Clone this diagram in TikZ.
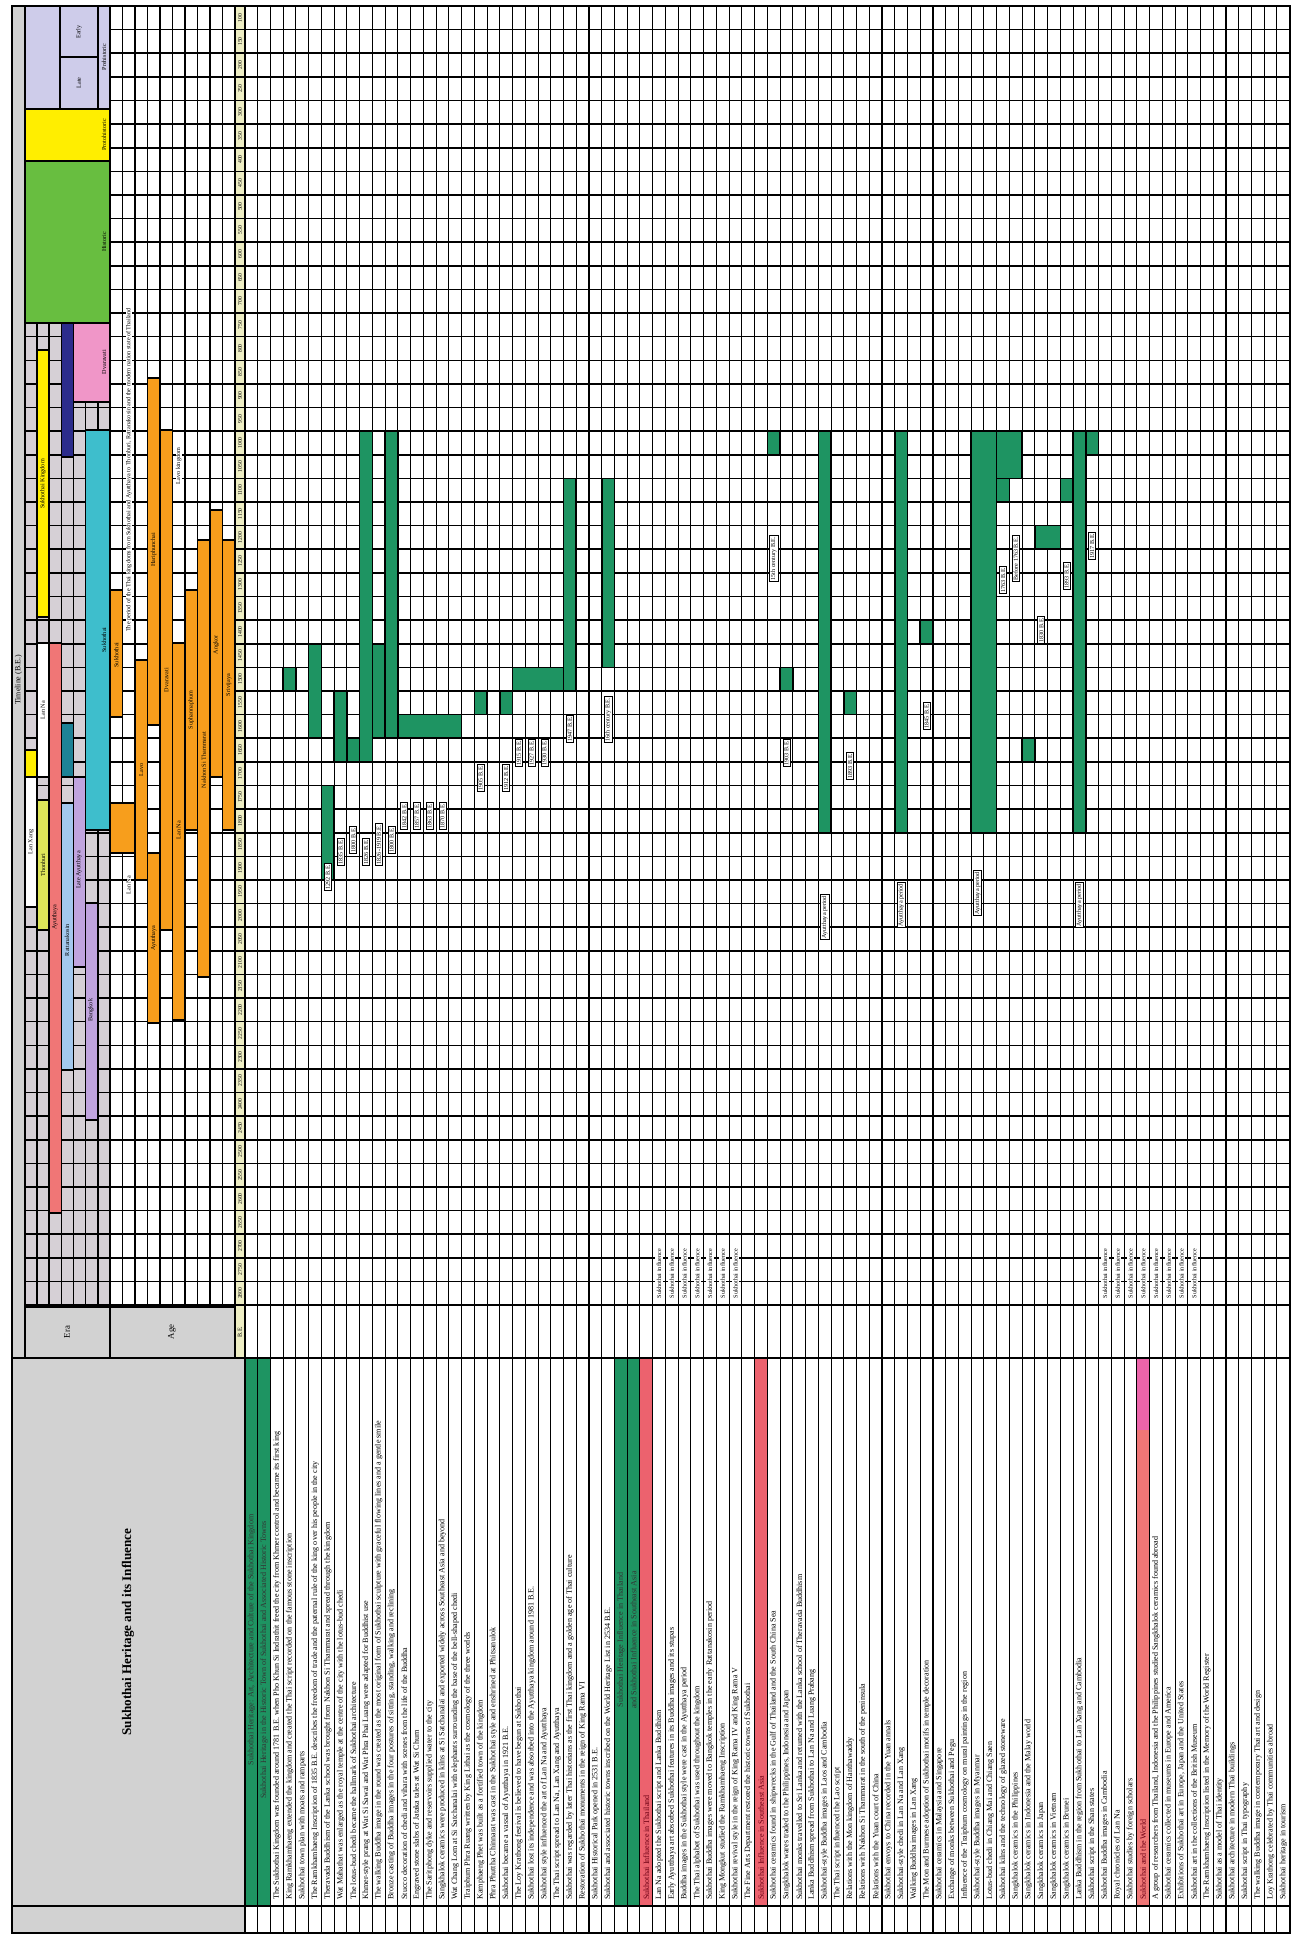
\documentclass[tikz,border=0pt]{standalone}
\usepackage{fontspec}
\setmainfont{Liberation Serif}
\usetikzlibrary{positioning}

\definecolor{hgreen}{RGB}{30,148,98}
\definecolor{ambar}{RGB}{247,158,28}
\definecolor{salmon}{RGB}{240,118,118}
\definecolor{rowred}{RGB}{236,98,110}
\definecolor{rowpink}{RGB}{236,100,170}
\definecolor{darkred}{RGB}{110,0,20}
\definecolor{eragray}{RGB}{214,208,214}
\definecolor{boxgray}{RGB}{210,210,210}
\definecolor{yrstrip}{RGB}{238,238,196}
\definecolor{lavender}{RGB}{206,204,234}
\definecolor{brightyel}{RGB}{255,238,0}
\definecolor{limegreen}{RGB}{104,190,64}
\definecolor{pinkbox}{RGB}{240,150,200}
\definecolor{navybar}{RGB}{44,44,140}
\definecolor{cyanbar}{RGB}{62,190,204}
\definecolor{tealbar}{RGB}{30,130,150}
\definecolor{ltblue}{RGB}{164,200,238}
\definecolor{lilac}{RGB}{192,164,222}
\definecolor{olivey}{RGB}{222,230,90}

% column positions of the rotated table
\newcommand{\rx}[1]{245+12.74*(#1)}
\newcommand{\cy}[1]{6+23.62*(#1)}
\newcommand{\ex}[1]{25+12.14*(#1)}
\newcommand{\ax}[1]{110+12.5*(#1)}

\begin{document}
\begin{tikzpicture}[
  x=0.02cm, y=-0.02cm,
  font=\fontsize{4.6}{5}\selectfont,
  gridln/.style={line width=0.9pt},
  thinln/.style={line width=0.6pt},
  bar/.style={draw=black, line width=0.9pt},
  rowtxt/.style={rotate=90, anchor=west, inner sep=0pt},
  headtxt/.style={rotate=90, anchor=center, inner sep=0pt, align=center},
  tag/.style={rotate=90, anchor=west, fill=white, draw=black, line width=0.4pt,
              inner sep=0.8pt, font=\fontsize{3.5}{4}\selectfont},
  bartxt/.style={rotate=90, inner sep=0pt, font=\fontsize{3.5}{4}\selectfont}
]
\useasboundingbox (0,0) rectangle (1297,1940);

% backgrounds
\fill[boxgray] (12,6) rectangle (25,1358);
\fill[eragray] (25,6) rectangle (110,1307);
\fill[yrstrip] (235,6) rectangle (245,1358);
\fill[boxgray] (25,1307) rectangle (235,1358);
\fill[boxgray] (12,1358) rectangle (245,1933);

% coloured rows of the text part
\fill[hgreen] ({\rx{0}},1358) rectangle ({\rx{2}},1906);
\fill[hgreen] ({\rx{29}},1358) rectangle ({\rx{31}},1906);
\fill[rowred] ({\rx{31}},1358) rectangle ({\rx{32}},1906);
\fill[rowred] ({\rx{40}},1358) rectangle ({\rx{41}},1906);
\fill[rowpink] ({\rx{70}},1358) rectangle ({\rx{71}},1430);
\fill[salmon] ({\rx{70}},1430) rectangle ({\rx{71}},1906);

% grid
\foreach \k in {0,...,55}
  \draw[gridln] (25,{\cy{\k}}) -- (1290,{\cy{\k}});
\foreach \k in {0,...,7}
  \draw[gridln] ({\ex{\k}},6) -- ({\ex{\k}},1307);
\foreach \k in {1,...,10}
  \draw[gridln] ({\ax{\k}},6) -- ({\ax{\k}},1307);
\foreach \k in {0,...,82}
  \draw[thinln] ({\rx{\k}},6) -- ({\rx{\k}},1933);
\draw[gridln] (245,1358) -- (1290,1358);
\draw[gridln] (245,1906) -- (1290,1906);

% era bars
\filldraw[lavender, bar] (25,6) rectangle (110,109);
\draw[gridln] (60,6) -- (60,109);
\draw[gridln] (97.8,6) -- (97.8,109);
\draw[gridln] (60,57) -- (97.8,57);
\filldraw[brightyel, bar] (25,109) rectangle (110,161);
\filldraw[limegreen, bar] (25,161) rectangle (110,323);
\filldraw[pinkbox, bar] ({\ex{4}},323) rectangle (110,402);
\filldraw[navybar, bar] ({\ex{3}},323) rectangle ({\ex{4}},457);
\filldraw[brightyel, bar] ({\ex{1}},350) rectangle ({\ex{2}},617);
\filldraw[cyanbar, bar] ({\ex{5}},430) rectangle (110,830);
\filldraw[white, bar] ({\ex{1}},643) rectangle ({\ex{2}},777);
\filldraw[salmon, bar] ({\ex{2}},643) rectangle ({\ex{3}},1213);
\filldraw[brightyel, bar] ({\ex{0}},750) rectangle ({\ex{1}},777);
\filldraw[white, bar] ({\ex{0}},777) rectangle ({\ex{1}},907);
\filldraw[olivey, bar] ({\ex{1}},800) rectangle ({\ex{2}},930);
\filldraw[tealbar, bar] ({\ex{3}},723) rectangle ({\ex{4}},777);
\filldraw[ltblue, bar] ({\ex{3}},803) rectangle ({\ex{4}},1070);
\filldraw[lilac, bar] ({\ex{4}},777) rectangle ({\ex{5}},967);
\filldraw[lilac, bar] ({\ex{5}},903) rectangle ({\ex{6}},1120);

\node[bartxt] (early) at (79,32) {Early};
\node[bartxt] (late) at (79,83) {Late};
\node[bartxt] (prehist) at (104,57) {Prehistoric};
\node[bartxt] (protohist) at (104,135) {Protohistoric};
\node[bartxt] (hist) at (104,242) {Historic};
\node[bartxt] (dvara) at (104,362) {Dvaravati};
\node[bartxt] (sukking) at (43,484) {Sukhothai Kingdom};
\node[bartxt] (sukera) at (104,640) {Sukhothai};
\node[bartxt] (lanna) at (43,710) {Lan Na};
\node[bartxt] (ayutera) at (55,917) {Ayutthaya};
\node[bartxt] (lanxang) at (31,842) {Lan Xang};
\node[bartxt] (thonb) at (43,865) {Thonburi};
\node[bartxt] (ratera) at (67,940) {Rattanakosin};
\node[bartxt] (ayutlate) at (79,870) {Late Ayutthaya};
\node[bartxt] (ratlate) at (91,1010) {Bangkok};

% age bars
\foreach \k/\a/\b/\n in {0/590/717/1, 0/803/853/2, 2/660/880/1, 3/378/725/1,
    3/853/1023/1, 4/430/930/1, 5/643/1020/1, 6/590/830/1, 7/540/977/1,
    8/510/777/1, 9/540/830/1}
  \filldraw[ambar, bar] ({\ax{\k}},\a) rectangle ({\ax{\k+\n}},\b);

\node[bartxt] (agsuk) at ({\ax{0.5}},655) {Sukhothai};
\node[bartxt] (aglavo) at ({\ax{2.5}},770) {Lavo};
\node[bartxt] (aghari) at ({\ax{3.5}},550) {Hariphunchai};
\node[bartxt] (agayut) at ({\ax{3.5}},938) {Ayutthaya};
\node[bartxt] (agdvar) at ({\ax{4.5}},680) {Dvaravati};
\node[bartxt] (aglanna) at ({\ax{5.5}},830) {Lan Na};
\node[bartxt] (agsupha) at ({\ax{6.5}},710) {Suphannaphum};
\node[bartxt] (agnakh) at ({\ax{7.5}},760) {Nakhon Si Thammarat};
\node[bartxt] (agang) at ({\ax{8.5}},645) {Angkor};
\node[bartxt] (agsri) at ({\ax{9.5}},685) {Srivijaya};
\node[bartxt, fill=white] (agmodern) at ({\ax{1.5}},470)
  {The period of the Thai kingdoms from Sukhothai and Ayutthaya to Thonburi, Rattanakosin and the modern nation state of Thailand};
\node[bartxt, fill=white] (aglavok) at ({\ax{5.5}},466) {Lavo kingdom};
\node[bartxt, fill=white] (agnorth) at ({\ax{1.5}},885) {Lan Na};

% green bars of the influence rows
\foreach \r/\n/\a/\b in {3/1/28/29, 5/1/27/31, 6/1/33/37, 7/1/29/32, 8/1/31/32,
    9/1/18/32, 10/1/27/31, 11/1/18/31, 12/5/30/31, 18/1/29/30, 20/1/29/30,
    21/4/28/29, 25/1/20/29, 28/1/20/28, 41/1/18/19, 42/1/28/29, 45/1/18/35,
    47/1/29/30, 51/1/18/35, 53/1/26/27, 57/2/18/35, 59/2/18/20, 59/1/20/21,
    61/1/31/32, 62/2/22/23, 64/1/20/21, 65/1/18/35, 66/1/18/19}
  \filldraw[hgreen, bar] ({\rx{\r}},{\cy{\a}}) rectangle ({\rx{\r+\n}},{\cy{\b}});

% date tags beside the bars
\foreach \r/\yb/\txt in {6/891/1292 B.E., 7/866/1835 B.E., 8/854/1800 B.E.,
    9/866/1826 B.E., 10/866/1826-1919 B.E., 11/854/1800 B.E., 12/830/1842 B.E.,
    13/830/1857 B.E., 14/830/1863 B.E., 15/830/1870 B.E., 18/792/1905 B.E.,
    20/792/1912 B.E., 21/767/1915 B.E., 22/767/1927 B.E., 23/767/1930 B.E.,
    25/743/1947 B.E., 28/743/16th century B.E., 41/582/15th century B.E.,
    42/767/1903 B.E., 45/940/Ayutthaya period, 47/780/1893 B.E.,
    51/928/Ayutthaya period, 53/730/1845 B.E., 57/916/Ayutthaya period,
    59/594/1763 B.E., 60/582/Before 1763 B.E., 62/644/1830 B.E.,
    64/590/1893 B.E., 65/928/Ayutthaya period, 66/560/1917 B.E.}
  \node[tag] (tg\r) at ({\rx{\r+0.5}},\yb) {\txt};

\foreach \r in {32,...,38}
  \node[tag, draw=none] (sk\r) at ({\rx{\r+0.5}},1300) {Sukhothai influence};
\foreach \r in {67,...,74}
  \node[tag, draw=none] (sw\r) at ({\rx{\r+0.5}},1300) {Sukhothai influence};

% year strip
\foreach \i in {0,...,54}{
  \pgfmathtruncatemacro\yv{100+50*\i}
  \node[bartxt, font=\fontsize{3.2}{3.5}\selectfont] (yr\i) at (240,{\cy{\i+0.5}}) {\yv};
}
\node[bartxt] (yrhead) at (240,1332) {B.E.};

% header cells
\draw[gridln] (25,1307) rectangle (110,1358);
\draw[gridln] (110,1307) rectangle (235,1358);
\node[headtxt, font=\fontsize{5}{6}\selectfont] (era) at (67,1332) {Era};
\node[headtxt, font=\fontsize{5}{6}\selectfont] (age) at (172,1332) {Age};
\node[headtxt, font=\fontsize{4.5}{5}\selectfont] (timeline) at (18.5,680) {Timeline (B.E.)};
\draw[gridln] (12,1358) rectangle (245,1906);
\draw[gridln] (12,1906) rectangle (245,1933);
\node[headtxt, font=\fontsize{7.5}{9}\selectfont\bfseries] (title) at (128,1632)
  {Sukhothai Heritage and its Influence};

% row texts
\node[headtxt, text=black!80] (h0) at ({\rx{0.5}},1640)
  {Sukhothai Heritage: Art, Architecture and Culture of the Sukhothai Kingdom};
\node[headtxt, text=black!80] (h1) at ({\rx{1.5}},1660)
  {Sukhothai Heritage in the Historic Town of Sukhothai and Associated Historic Towns};
\node[headtxt, text=black!80] (h29) at ({\rx{29.5}},1640) {Sukhothai Heritage Influence in Thailand};
\node[headtxt, text=black!80] (h30) at ({\rx{30.5}},1640) {and Sukhothai Influence in Southeast Asia};
\node[rowtxt, text=darkred] (h31) at ({\rx{31.5}},1900) {Sukhothai Influence in Thailand};
\node[rowtxt, text=darkred] (h40) at ({\rx{40.5}},1900) {Sukhothai Influence in Southeast Asia};
\node[rowtxt, text=darkred] (h70) at ({\rx{70.5}},1900) {Sukhothai and the World};

\foreach \i/\txt in {
  2/{The Sukhothai Kingdom was founded around 1781 B.E. when Pho Khun Si Indrathit freed the city from Khmer control and became its first king},
  3/{King Ramkhamhaeng extended the kingdom and created the Thai script recorded on the famous stone inscription},
  4/{Sukhothai town plan with moats and ramparts},
  5/{The Ramkhamhaeng Inscription of 1835 B.E. describes the freedom of trade and the paternal rule of the king over his people in the city},
  6/{Theravada Buddhism of the Lanka school was brought from Nakhon Si Thammarat and spread through the kingdom},
  7/{Wat Mahathat was enlarged as the royal temple at the centre of the city with the lotus-bud chedi},
  8/{The lotus-bud chedi became the hallmark of Sukhothai architecture},
  9/{Khmer-style prang at Wat Si Sawai and Wat Phra Phai Luang were adapted for Buddhist use},
  10/{The walking Buddha image in the round was created as the most original form of Sukhothai sculpture with graceful flowing lines and a gentle smile},
  11/{Bronze casting of Buddha images in the four postures of sitting, standing, walking and reclining},
  12/{Stucco decoration of chedi and vihara with scenes from the life of the Buddha},
  13/{Engraved stone slabs of Jataka tales at Wat Si Chum},
  14/{The Saritphong dyke and reservoirs supplied water to the city},
  15/{Sangkhalok ceramics were produced in kilns at Si Satchanalai and exported widely across Southeast Asia and beyond},
  16/{Wat Chang Lom at Si Satchanalai with elephants surrounding the base of the bell-shaped chedi},
  17/{Traiphum Phra Ruang written by King Lithai as the cosmology of the three worlds},
  18/{Kamphaeng Phet was built as a fortified town of the kingdom},
  19/{Phra Phuttha Chinnarat was cast in the Sukhothai style and enshrined at Phitsanulok},
  20/{Sukhothai became a vassal of Ayutthaya in 1921 B.E.},
  21/{The Loy Krathong festival is believed to have begun at Sukhothai},
  22/{Sukhothai lost its independence and was absorbed into the Ayutthaya kingdom around 1981 B.E.},
  23/{Sukhothai style influenced the art of Lan Na and Ayutthaya},
  24/{The Thai script spread to Lan Na, Lan Xang and Ayutthaya},
  25/{Sukhothai was regarded by later Thai historians as the first Thai kingdom and a golden age of Thai culture},
  26/{Restoration of Sukhothai monuments in the reign of King Rama VI},
  27/{Sukhothai Historical Park opened in 2531 B.E.},
  28/{Sukhothai and associated historic towns inscribed on the World Heritage List in 2534 B.E.},
  32/{Lan Na adopted the Sukhothai script and Lanka Buddhism},
  33/{Early Ayutthaya art absorbed Sukhothai features in its Buddha images and its stupas},
  34/{Buddha images in the Sukhothai style were cast in the Ayutthaya period},
  35/{The Thai alphabet of Sukhothai was used throughout the kingdom},
  36/{Sukhothai Buddha images were moved to Bangkok temples in the early Rattanakosin period},
  37/{King Mongkut studied the Ramkhamhaeng Inscription},
  38/{Sukhothai revival style in the reign of King Rama IV and King Rama V},
  39/{The Fine Arts Department restored the historic towns of Sukhothai},
  41/{Sukhothai ceramics found in shipwrecks in the Gulf of Thailand and the South China Sea},
  42/{Sangkhalok wares traded to the Philippines, Indonesia and Japan},
  43/{Sukhothai monks travelled to Sri Lanka and returned with the Lanka school of Theravada Buddhism},
  44/{Lanka Buddhism spread from Sukhothai to Lan Na and Luang Prabang},
  45/{Sukhothai-style Buddha images in Laos and Cambodia},
  46/{The Thai script influenced the Lao script},
  47/{Relations with the Mon kingdom of Hanthawaddy},
  48/{Relations with Nakhon Si Thammarat in the south of the peninsula},
  49/{Relations with the Yuan court of China},
  50/{Sukhothai envoys to China recorded in the Yuan annals},
  51/{Sukhothai-style chedi in Lan Na and Lan Xang},
  52/{Walking Buddha images in Lan Xang},
  53/{The Mon and Burmese adoption of Sukhothai motifs in temple decoration},
  54/{Sukhothai ceramics in Malaysia and Singapore},
  55/{Exchange of monks between Sukhothai and Pegu},
  56/{Influence of the Traiphum cosmology on mural paintings in the region},
  57/{Sukhothai-style Buddha images in Myanmar},
  58/{Lotus-bud chedi in Chiang Mai and Chiang Saen},
  59/{Sukhothai kilns and the technology of glazed stoneware},
  60/{Sangkhalok ceramics in the Philippines},
  61/{Sangkhalok ceramics in Indonesia and the Malay world},
  62/{Sangkhalok ceramics in Japan},
  63/{Sangkhalok ceramics in Vietnam},
  64/{Sangkhalok ceramics in Brunei},
  65/{Lanka Buddhism in the region from Sukhothai to Lan Xang and Cambodia},
  66/{Sukhothai script in the Shan states},
  67/{Sukhothai Buddha images in Cambodia},
  68/{Royal chronicles of Lan Na},
  69/{Sukhothai studies by foreign scholars},
  71/{A group of researchers from Thailand, Indonesia and the Philippines studied Sangkhalok ceramics found abroad},
  72/{Sukhothai ceramics collected in museums in Europe and America},
  73/{Exhibitions of Sukhothai art in Europe, Japan and the United States},
  74/{Sukhothai art in the collections of the British Museum},
  75/{The Ramkhamhaeng Inscription listed in the Memory of the World Register},
  76/{Sukhothai as a model of Thai identity},
  77/{Sukhothai architecture in modern Thai buildings},
  78/{Sukhothai script in Thai typography},
  79/{The walking Buddha image in contemporary Thai art and design},
  80/{Loy Krathong celebrated by Thai communities abroad},
  81/{Sukhothai heritage in tourism}}
  \node[rowtxt] (rt\i) at ({\rx{\i+0.5}},1900) {\txt};

% frame
\draw[line width=1.1pt] (12,6) rectangle (1290,1933);
\end{tikzpicture}
\end{document}
